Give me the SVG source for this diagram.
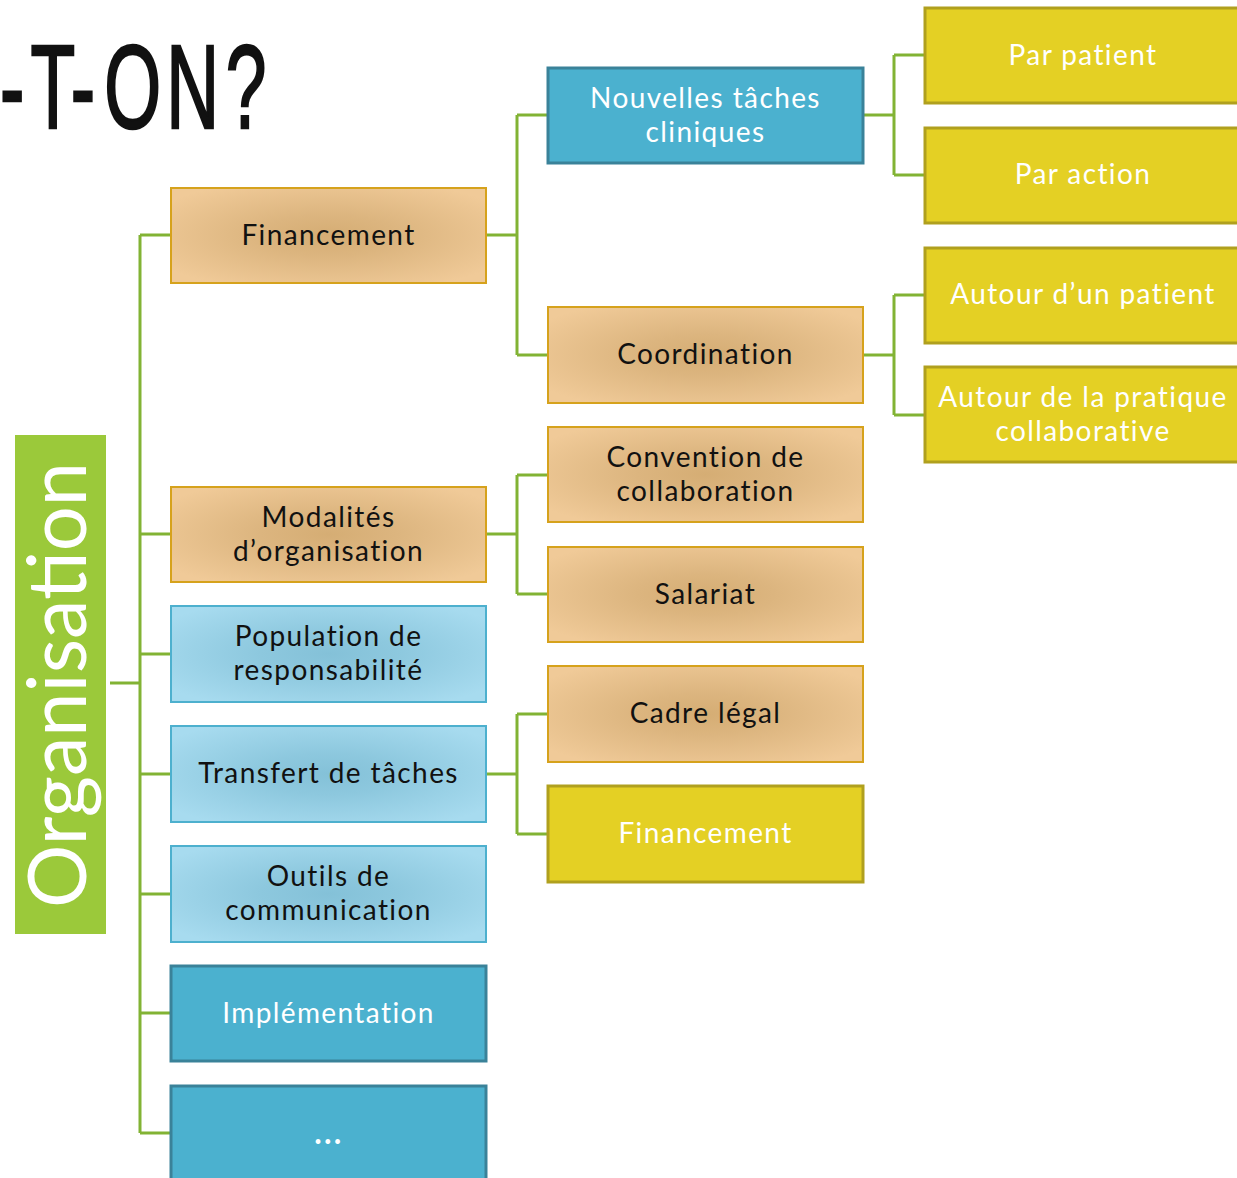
<svg xmlns="http://www.w3.org/2000/svg" width="1237" height="1178" viewBox="0 0 1237 1178">
  <defs>
    <radialGradient id="tan" cx="0.5" cy="0.5" r="0.62">
      <stop offset="0" stop-color="#D5AD74"/>
      <stop offset="0.35" stop-color="#DCB57F"/>
      <stop offset="1" stop-color="#F0CA98"/>
    </radialGradient>
    <radialGradient id="sky" cx="0.5" cy="0.5" r="0.62">
      <stop offset="0" stop-color="#84C1D8"/>
      <stop offset="0.35" stop-color="#8DC8DE"/>
      <stop offset="1" stop-color="#A7DBEF"/>
    </radialGradient>
    <style>
      .lbl { font-family: Lato, "Open Sans", "Liberation Sans", sans-serif; font-size: 28px; letter-spacing: 1.4px; text-anchor: middle; }
      .dark { fill: #111111; }
      .light { fill: #FFFFFF; }
      .tan { fill: url(#tan); stroke: #D6A21C; stroke-width: 2; }
      .sky { fill: url(#sky); stroke: #4DB0CE; stroke-width: 2; }
      .blue { fill: #4BB1CF; stroke: #3A8299; stroke-width: 3; }
      .yellow { fill: #E4D024; stroke: #B0A01E; stroke-width: 3; }
      .link { fill: none; stroke: #82B334; stroke-width: 3; }
      .title { font-family: "Liberation Sans", Arial, sans-serif; font-size: 118px; fill: #111111; stroke: #111111; stroke-width: 2.5; }
    </style>
  </defs>

  <rect width="1237" height="1178" fill="#FFFFFF"/>

  <!-- heading fragment, condensed -->
  <g id="heading" transform="scale(0.62,1)">
    <text class="title" x="0 49 114 168 268 364" y="128">-T-ON?</text>
  </g>

  <!-- connectors -->
  <g id="connectors">
    <path class="link" d="M110 683 H140 M140 235 V1133 M140 235 H171 M140 534 H171 M140 654 H171 M140 774 H171 M140 894 H171 M140 1013 H171 M140 1133 H171"/>
    <path class="link" d="M486 235 H517 M517 115 V355 M517 115 H548 M517 355 H548"/>
    <path class="link" d="M486 534 H517 M517 475 V594 M517 475 H548 M517 594 H548"/>
    <path class="link" d="M486 774 H517 M517 714 V834 M517 714 H548 M517 834 H548"/>
    <path class="link" d="M863 115 H894 M894 55 V175 M894 55 H925 M894 175 H925"/>
    <path class="link" d="M863 355 H894 M894 295 V415 M894 295 H925 M894 415 H925"/>
  </g>

  <!-- root -->
  <g id="organisation">
    <rect x="15" y="435" width="91" height="499" fill="#9BC93A"/>
    <text transform="translate(86,685) rotate(-90)" x="0" y="0" text-anchor="middle" font-family="Lato, 'Open Sans', 'Liberation Sans', sans-serif" font-size="82" fill="#FFFFFF" textLength="446" lengthAdjust="spacingAndGlyphs">Organisation</text>
  </g>

  <!-- level 1 -->
  <g id="financement">
    <rect class="tan" x="171" y="188" width="315" height="95"/>
    <text class="lbl dark" x="328.5" y="245">Financement</text>
  </g>
  <g id="modalites">
    <rect class="tan" x="171" y="487" width="315" height="95"/>
    <text class="lbl dark" x="328.5" y="527">Modalités</text>
    <text class="lbl dark" x="328.5" y="561">d’organisation</text>
  </g>
  <g id="population">
    <rect class="sky" x="171" y="606" width="315" height="96"/>
    <text class="lbl dark" x="328.5" y="646">Population de</text>
    <text class="lbl dark" x="328.5" y="680">responsabilité</text>
  </g>
  <g id="transfert">
    <rect class="sky" x="171" y="726" width="315" height="96"/>
    <text class="lbl dark" x="328.5" y="783">Transfert de tâches</text>
  </g>
  <g id="outils">
    <rect class="sky" x="171" y="846" width="315" height="96"/>
    <text class="lbl dark" x="328.5" y="886">Outils de</text>
    <text class="lbl dark" x="328.5" y="920">communication</text>
  </g>
  <g id="implementation">
    <rect class="blue" x="171" y="966" width="315" height="95"/>
    <text class="lbl light" x="328.5" y="1023">Implémentation</text>
  </g>
  <g id="autres">
    <rect class="blue" x="171" y="1086" width="315" height="100"/>
    <text class="lbl light" x="328.5" y="1144" style="font-size:38px">…</text>
  </g>

  <!-- level 2 -->
  <g id="nouvelles-taches">
    <rect class="blue" x="548" y="68" width="315" height="95"/>
    <text class="lbl light" x="705.5" y="108">Nouvelles tâches</text>
    <text class="lbl light" x="705.5" y="142">cliniques</text>
  </g>
  <g id="coordination">
    <rect class="tan" x="548" y="307" width="315" height="96"/>
    <text class="lbl dark" x="705.5" y="364">Coordination</text>
  </g>
  <g id="convention">
    <rect class="tan" x="548" y="427" width="315" height="95"/>
    <text class="lbl dark" x="705.5" y="467">Convention de</text>
    <text class="lbl dark" x="705.5" y="501">collaboration</text>
  </g>
  <g id="salariat">
    <rect class="tan" x="548" y="547" width="315" height="95"/>
    <text class="lbl dark" x="705.5" y="604">Salariat</text>
  </g>
  <g id="cadre-legal">
    <rect class="tan" x="548" y="666" width="315" height="96"/>
    <text class="lbl dark" x="705.5" y="723">Cadre légal</text>
  </g>
  <g id="financement-2">
    <rect class="yellow" x="548" y="786" width="315" height="96"/>
    <text class="lbl light" x="705.5" y="843">Financement</text>
  </g>

  <!-- level 3 -->
  <g id="par-patient">
    <rect class="yellow" x="925" y="8" width="315" height="95"/>
    <text class="lbl light" x="1083" y="65">Par patient</text>
  </g>
  <g id="par-action">
    <rect class="yellow" x="925" y="128" width="315" height="95"/>
    <text class="lbl light" x="1083" y="184">Par action</text>
  </g>
  <g id="autour-patient">
    <rect class="yellow" x="925" y="248" width="315" height="95"/>
    <text class="lbl light" x="1083" y="304">Autour d’un patient</text>
  </g>
  <g id="autour-pratique">
    <rect class="yellow" x="925" y="367" width="315" height="95"/>
    <text class="lbl light" x="1083" y="407">Autour de la pratique</text>
    <text class="lbl light" x="1083" y="441">collaborative</text>
  </g>
</svg>
